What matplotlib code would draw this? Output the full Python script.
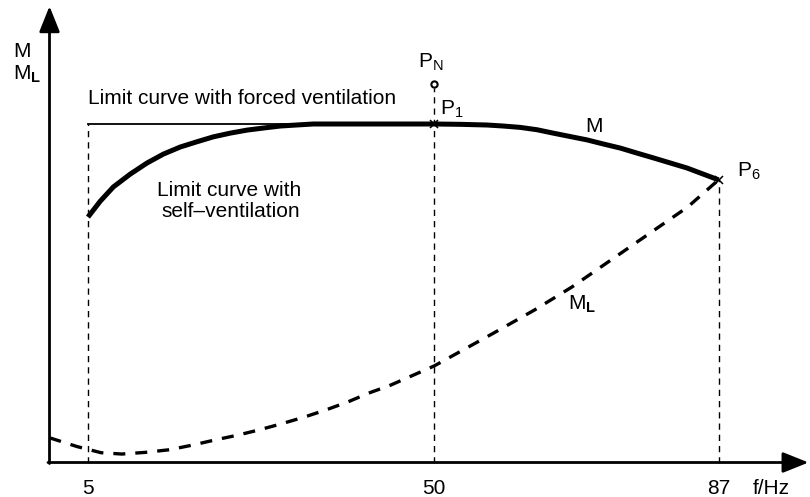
import matplotlib
matplotlib.use("Agg")
import matplotlib.pyplot as plt

plt.rcParams['font.family'] = ['Liberation Sans', 'DejaVu Sans']
plt.rcParams['mathtext.fontset'] = 'custom'
plt.rcParams['mathtext.rm'] = 'Liberation Sans'
plt.rcParams['mathtext.it'] = 'Liberation Sans'
plt.rcParams['mathtext.bf'] = 'Liberation Sans:bold'

# ---- data (f in Hz, torque in % of rated) ----
x_ticks = [5, 50, 87]
x_tick_labels = ["5", "50", "87"]

m_f = [5, 6.6, 8.3, 10.5, 12.7, 14.8, 17.0, 19.1, 21.3, 23.5, 25.7, 27.8, 30.0, 32.1, 34.3, 42, 50,
       53.4, 56.9, 59.0, 61.2, 63.4, 65.5, 67.7, 69.9, 72.0, 74.2, 76.4, 78.5, 80.7, 82.9, 85.0, 87]
m_val = [72.5, 77.2, 81.4, 85.2, 88.5, 91.1, 93.2, 94.7, 96.2, 97.3, 98.2, 98.8, 99.4, 99.7, 100, 100, 100,
         99.9, 99.7, 99.4, 99.0, 98.3, 97.3, 96.3, 95.3, 94.1, 92.9, 91.4, 90.0, 88.5, 87.0, 85.2, 83.5]

ml_f = [0, 3.6, 6.7, 9.4, 12.5, 15.7, 18.7, 21.4, 24.5, 27.2, 30.1, 33.1, 35.9, 38.8, 41.5, 44.4, 47.3, 50,
        57.8, 63.1, 67.9, 73.0, 78.1, 83.0, 87]
ml_val = [7.3, 4.7, 2.9, 2.5, 3.0, 3.8, 5.2, 6.6, 8.1, 9.6, 11.4, 13.4, 15.5, 17.9, 20.5, 22.9, 25.8, 28.5,
          38.3, 45.1, 51.8, 59.8, 67.8, 75.5, 83.5]

forced_f = [5, 50]
forced_val = [100, 100]

pn_f, pn_val = 50, 111.7
p1_f, p1_val = 50, 100
p6_f, p6_val = 87, 83.5

fig = plt.figure(figsize=(8.1, 4.97), dpi=100)
ax = fig.add_axes([0, 0, 1, 1])
ax.set_xlim(-6.437, 98.89)
ax.set_ylim(-10.19, 136.63)
ax.axis('off')

FS = 15

# axes with arrows
arrow = dict(arrowstyle='-|>,head_length=1.05,head_width=0.42', lw=2.0, color='black',
             shrinkA=0, shrinkB=0, mutation_scale=15)
ax.annotate('', xy=(0, 134.8), xytext=(0, -0.3), arrowprops=arrow)
ax.annotate('', xy=(98.7, 0), xytext=(-0.2, 0), arrowprops=arrow)

# vertical dashed guide lines
vd = dict(color='black', lw=1.0, linestyle=(0, (4.5, 3.6)))
ax.plot([x_ticks[0], x_ticks[0]], [0, forced_val[0]], **vd)
ax.plot([x_ticks[1], x_ticks[1]], [0, pn_val - 1.2], **vd)
ax.plot([x_ticks[2], x_ticks[2]], [0, p6_val], **vd)

# forced ventilation line
ax.plot(forced_f, forced_val, color='black', lw=1.3)

# M curve (self ventilation)
ax.plot(m_f, m_val, color='black', lw=3.6, solid_capstyle='butt', solid_joinstyle='round')

# ML dashed
ax.plot(ml_f, ml_val, color='black', lw=2.4, linestyle=(0, (3.6, 3.0)))

# markers
ax.plot([pn_f], [pn_val], marker='o', ms=4.5, mfc='white', mec='black', mew=1.5)
ax.plot([p1_f], [p1_val], marker='x', ms=6, color='black', mew=1.1)
ax.plot([p6_f], [p6_val], marker='x', ms=6, color='black', mew=1.1)

# labels
ax.text(5.0, 105.9, "Limit curve with forced ventilation", fontsize=FS, ha='left', va='baseline')
ax.text(23.4, 78.7, "Limit curve with", fontsize=FS, ha='center', va='baseline')
ax.text(23.6, 72.5, "self\u2013ventilation", fontsize=FS, ha='center', va='baseline')
ax.text(69.6, 97.6, "M", fontsize=FS, ha='left', va='baseline')
ax.text(50.8, 102.6, "P$_1$", fontsize=FS, ha='left', va='baseline')
ax.text(49.6, 116.5, "P$_{\\mathrm{N}}$", fontsize=FS, ha='center', va='baseline')
ax.text(89.4, 84.3, "P$_6$", fontsize=FS, ha='left', va='baseline')
ax.text(67.4, 45.1, "M$_{\\mathbf{L}}$", fontsize=FS, ha='left', va='baseline')
ax.text(-4.75, 119.8, "M", fontsize=FS, ha='left', va='baseline')
ax.text(-4.75, 113.0, "M$_{\\mathbf{L}}$", fontsize=FS, ha='left', va='baseline')

for xt, lab in zip(x_ticks, x_tick_labels):
    ax.text(xt, -9.2, lab, fontsize=FS, ha='center', va='baseline')
ax.text(93.8, -9.2, "f/Hz", fontsize=FS, ha='center', va='baseline')

fig.savefig("out.png", dpi=100)
